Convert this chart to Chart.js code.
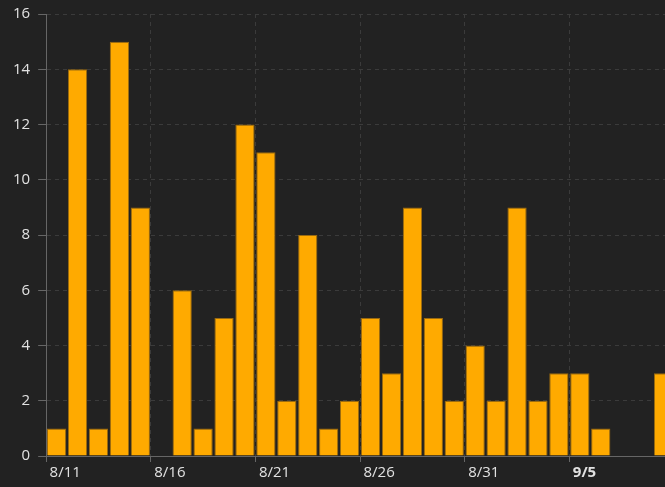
<!DOCTYPE html>
<html>
<head>
<meta charset="utf-8">
<script src="https://cdn.jsdelivr.net/npm/chart.js@4/dist/chart.umd.min.js"></script>
<style>
html, body { margin:0; padding:0; background:#222222; overflow:hidden; }
#wrap { position:relative; top:-3px; width:676px; height:490px; }
</style>
</head>
<body>
<div id="wrap"><canvas id="c"></canvas></div>
<script>
const categories = ['8/11','8/12','8/13','8/14','8/15','8/16','8/17','8/18','8/19','8/20',
  '8/21','8/22','8/23','8/24','8/25','8/26','8/27','8/28','8/29','8/30',
  '8/31','9/1','9/2','9/3','9/4','9/5','9/6','9/7','9/8','9/9'];
const counts = [1,14,1,15,9,0,6,1,5,12,
  11,2,8,1,2,5,3,9,5,2,
  4,2,9,2,3,3,1,0,0,3];
const yTicks = [0,2,4,6,8,10,12,14,16];
const highlightLabel = '9/5';

const gridColor = '#3b3b3b';
const axisColor = '#666666';
const textColor = '#e2e2e2';
const fontFamily = '"Open Sans", "Noto Sans", sans-serif';

new Chart(document.getElementById('c'), {
  type: 'bar',
  data: {
    labels: categories,
    datasets: [{
      data: counts,
      backgroundColor: '#ffaa00',
      borderColor: '#9a6a10',
      borderWidth: 1,
      categoryPercentage: 1.0,
      barPercentage: 0.92
    }]
  },
  options: {
    responsive: true,
    maintainAspectRatio: false,
    animation: false,
    layout: { padding: { left: 5, top: 1, right: 2, bottom: 3 } },
    plugins: { legend: { display: false }, tooltip: { enabled: false } },
    scales: {
      x: {
        offset: true,
        grid: {
          offset: true,
          color: (ctx) => (ctx.index % 5 === 0 ? gridColor : 'transparent'),
          tickColor: (ctx) => (ctx.index % 5 === 0 ? axisColor : 'transparent'),
          tickLength: 6,
          lineWidth: 1
        },
        border: { display: true, color: axisColor, width: 1, dash: [4, 4] },
        ticks: {
          autoSkip: false,
          maxRotation: 0,
          minRotation: 0,
          align: 'start',
          labelOffset: -7,
          padding: 2,
          color: textColor,
          font: (ctx) => ({
            family: fontFamily,
            size: 15,
            weight: (ctx.tick && ctx.tick.label === highlightLabel) ? 'bold' : 'normal'
          }),
          callback: function(value, index) {
            return index % 5 === 0 ? categories[index] : '';
          }
        }
      },
      y: {
        min: 0,
        max: 16,
        afterBuildTicks: (axis) => { axis.ticks = yTicks.map(v => ({ value: v })); },
        grid: {
          color: gridColor,
          tickColor: axisColor,
          tickLength: 8,
          lineWidth: 1
        },
        border: { display: true, color: axisColor, width: 1, dash: [4, 4] },
        ticks: {
          color: textColor,
          padding: 8,
          font: { family: fontFamily, size: 15 }
        }
      }
    }
  }
});
</script>
</body>
</html>
